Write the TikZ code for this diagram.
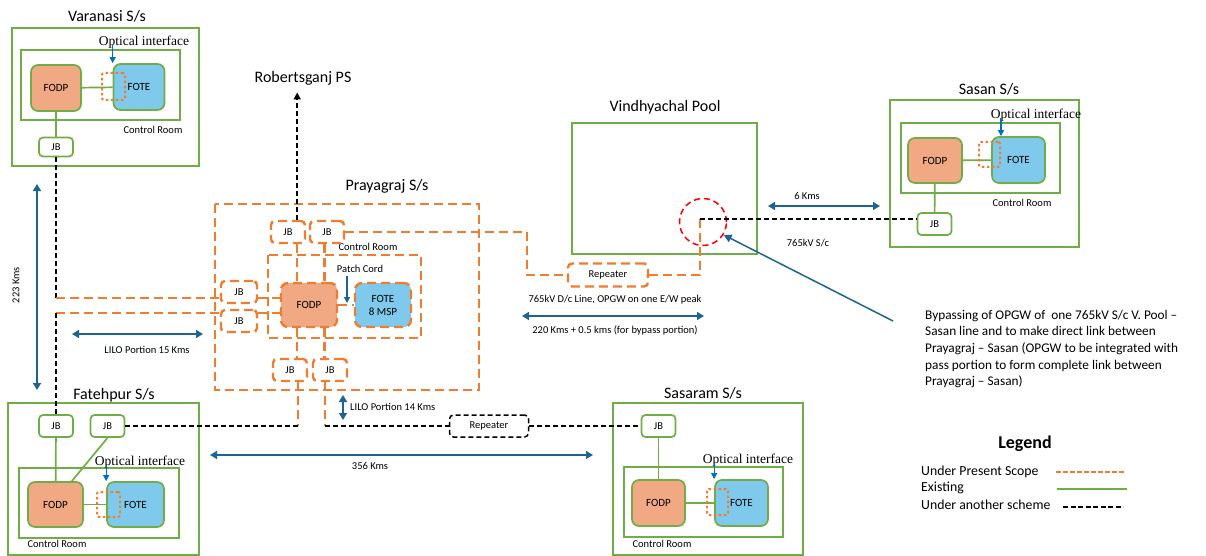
\documentclass[tikz,border=0pt]{standalone}
\usepackage{fontspec}
\setmainfont{Carlito}
\newfontfamily\timesfont{Liberation Serif}
\usetikzlibrary{arrows.meta}
\definecolor{exgreen}{RGB}{112,173,71}
\definecolor{scorange}{RGB}{237,125,49}
\definecolor{fodpfill}{RGB}{240,169,130}
\definecolor{fotefill}{RGB}{127,201,236}
\definecolor{kmblue}{RGB}{31,99,145}
\definecolor{oiblue}{RGB}{0,112,192}

\begin{document}
\begin{tikzpicture}[x=1pt,y=-1pt,
  existing/.style={draw=exgreen,line width=1.7pt},
  present/.style={draw=scorange,line width=2.4pt,dash pattern=on 9pt off 5pt},
  another/.style={draw=black,line width=1.5pt,dash pattern=on 5pt off 3pt},
  jbox/.style={rounded corners=4pt,fill=white,minimum width=34pt,minimum height=22pt,inner sep=0pt,font=\fontsize{10.5}{12}\selectfont},
  fodp/.style={rounded corners=7pt,fill=fodpfill,minimum width=53pt,minimum height=46pt,inner sep=0pt,font=\fontsize{11}{13}\selectfont},
  fote/.style={fodp,fill=fotefill},
  dotbr/.style={draw=scorange,line width=2pt,dash pattern=on 2.5pt off 2.5pt,rounded corners=2pt,inner sep=0pt},
  kms/.style={draw=kmblue,line width=1.5pt,{Triangle[width=8pt,length=7pt]}-{Triangle[width=8pt,length=7pt]}},
  oiarrow/.style={draw=oiblue,line width=1.2pt,-{Triangle[width=6pt,length=6pt]}},
  title/.style={font=\fontsize{16}{19}\selectfont},
  small/.style={font=\fontsize{10.5}{12}\selectfont},
  optint/.style={font=\timesfont\fontsize{13.5}{16}\selectfont},
  legtext/.style={anchor=west,inner sep=0pt,font=\fontsize{13.8}{15}\selectfont}
]
\useasboundingbox (0,0) rectangle (1206,556);

\coordinate (lnA) at (56,298);
\coordinate (lnB) at (56,313);
\coordinate (jnA) at (298,426);
\coordinate (jnB) at (325,426);
\coordinate (cnA) at (527,232);
\coordinate (vpJ) at (700,219);
\coordinate (pcA) at (347,303);

% Varanasi
\node[title] (varT) at (107,16) {Varanasi S/s};
\draw[existing] (12,28) rectangle (199,166);
\draw[existing] (21,50) rectangle (180,120);
\node[fodp,existing,minimum width=50pt] (varFODP) at (56,88) {FODP};
\node[fote,existing,minimum width=51pt] (varFOTE) at (139,87) {FOTE};
\draw[existing] (varFODP) -- (varFOTE);
\node[dotbr,minimum width=23pt,minimum height=27pt] (varPC) at (113.5,86.5) {};
\node[optint] (varOI) at (144,42) {Optical interface};
\draw[oiarrow] (varOI.base -| varFOTE.west) -- (varFOTE.north west);
\node[small] (varCR) at (153,130) {Control Room};
\node[jbox,existing,minimum height=19pt] (varJB) at (56,147) {JB};
\draw[existing] (varFODP) -- (varJB);
\draw[another] (varJB) -- (lnA);

% Prayagraj
\node[title] (pyT) at (387,186) {Prayagraj S/s};
\draw[present] (215,204) rectangle (479,390);
\draw[present] (268,255) rectangle (421,338);
\node[fodp,present,minimum width=56pt,minimum height=44pt] (pyFODP) at (309,305) {FODP};
\node[fote,present,minimum width=56pt,minimum height=44pt,align=center] (pyFOTE) at (383,305) {FOTE\\8 MSP};
\draw[present] (pyFODP) -- (pyFOTE);
\node[small] (pyPC) at (360,269) {Patch Cord};
\draw[draw=kmblue,line width=1.3pt,-{Triangle[width=6pt,length=6pt]}] (pyPC.south -| pcA) -- (pcA);
\node[small] (pyCR) at (368,247) {Control Room};
\node[jbox,present] (pyJB1) at (288,232) {JB};
\node[jbox,present] (pyJB2) at (327,232) {JB};
\node[jbox,present,minimum width=36pt] (pyJB3) at (239,292) {JB};
\node[jbox,present,minimum width=36pt] (pyJB4) at (239,321) {JB};
\node[jbox,present] (pyJB5) at (290,370) {JB};
\node[jbox,present] (pyJB6) at (330,370) {JB};
\draw[present] (pyJB1.south -| pyFODP.117) -- (pyFODP.117);
\draw[present] (pyJB2.south -| pyFODP.56) -- (pyFODP.56);
\draw[present] (pyFODP.243) -- (pyFODP.243 |- pyJB5.north);
\draw[present] (pyFODP.304) -- (pyFODP.304 |- pyJB6.north);
\draw[present] (pyJB3.east |- lnA) -- (pyFODP.west |- lnA);
\draw[present] (pyJB4.east |- lnB) -- (pyFODP.west |- lnB);
\draw[present] (lnA) -- (pyJB3.west |- lnA);
\draw[present] (lnB) -- (pyJB4.west |- lnB);
\draw[present] (pyJB5.south -| jnA) -- (jnA);
\draw[present] (pyJB6.south -| jnB) -- (jnB);

% Robertsganj
\node[title] (robT) at (303,78) {Robertsganj PS};
\draw[another,-{Triangle[width=7pt,length=7pt]},shorten >=4pt] (pyJB1.north -| pyFODP.117) -- (pyFODP.117 |- robT.south);

% Vindhyachal Pool
\node[title] (vpT) at (665,107) {Vindhyachal Pool};
\draw[existing] (572,123) rectangle (757,254);
\node[jbox,present,minimum width=80pt,minimum height=23pt] (rep1) at (608,275) {Repeater};
\draw[present] (pyJB2) -- (pyJB2 -| cnA) |- (rep1);
\draw[present] (rep1) -| (vpJ);
\node[circle,draw=red,line width=1.5pt,dash pattern=on 6pt off 4pt,minimum size=47pt] (byp) at (703,222) {};

% Sasan
\node[title] (sasT) at (989,89) {Sasan S/s};
\draw[existing] (890,100) rectangle (1079,247);
\draw[existing] (901,123) rectangle (1060,193);
\node[fodp,existing,minimum width=54pt,minimum height=45pt] (sasFODP) at (935,160.5) {FODP};
\node[fote,existing,minimum width=53pt] (sasFOTE) at (1018.5,160) {FOTE};
\draw[existing] (sasFODP) -- (sasFOTE);
\node[dotbr,minimum width=21pt,minimum height=25pt] (sasPC) at (989.5,154.5) {};
\node[optint] (sasOI) at (1036,115) {Optical interface};
\draw[oiarrow] (sasOI.base -| sasPC.east) -- (sasPC.east |- sasFOTE.north);
\node[small] (sasCR) at (1022,203) {Control Room};
\node[jbox,existing] (sasJB) at (934.5,224) {JB};
\draw[existing] (sasFODP) -- (sasJB);
\draw[another] (vpJ) -- (vpJ -| sasJB.west);

% Fatehpur
\node[title] (fatT) at (114,395) {Fatehpur S/s};
\draw[existing] (8,403) rectangle (199,555);
\draw[existing] (19,468) rectangle (179,538);
\node[jbox,existing] (fatJB1) at (56,426) {JB};
\node[jbox,existing] (fatJB2) at (107.5,426) {JB};
\node[fodp,existing,minimum width=55pt,minimum height=45pt] (fatFODP) at (55.5,504.5) {FODP};
\node[fote,existing,minimum width=57pt,minimum height=45pt] (fatFOTE) at (135.5,504.5) {FOTE};
\draw[existing] (fatJB1) -- (fatFODP);
\draw[existing] (fatJB2.south) -- (fatFODP.55);
\draw[existing] (fatFODP) -- (fatFOTE);
\node[dotbr,minimum width=23pt,minimum height=25pt] (fatPC) at (108.5,504.5) {};
\node[optint] (fatOI) at (140,462) {Optical interface};
\draw[oiarrow] (fatOI.base -| fatFOTE.west) -- (fatFOTE.north west);
\node[small] (fatCR) at (57,544) {Control Room};
\draw[another] (lnB) -- (fatJB1);
\draw[another] (fatJB2) -- (jnA);

% Sasaram
\node[title] (ssmT) at (703,393) {Sasaram S/s};
\draw[existing] (613,403) rectangle (803,555);
\draw[existing] (624,467) rectangle (783,537);
\node[jbox,existing] (ssmJB) at (658.5,426) {JB};
\node[fodp,existing] (ssmFODP) at (658.5,503) {FODP};
\node[fote,existing] (ssmFOTE) at (741.5,503) {FOTE};
\draw[existing] (ssmJB) -- (ssmFODP);
\draw[existing] (ssmFODP) -- (ssmFOTE);
\node[dotbr,minimum width=21pt,minimum height=26pt] (ssmPC) at (717.5,502) {};
\node[optint] (ssmOI) at (748,460) {Optical interface};
\draw[oiarrow] (ssmOI.base -| ssmFOTE.west) -- (ssmFOTE.north west);
\node[small] (ssmCR) at (662,544) {Control Room};
\node[jbox,another,minimum width=79pt] (rep2) at (489,426) {Repeater};
\draw[another] (jnB) -- (rep2) -- (ssmJB);

% distances
\coordinate (k223a) at (37,184);
\coordinate (k223b) at (37,390);
\draw[kms] (k223a) -- (k223b);
\node[small,rotate=90] (k223) at (16,285) {223 Kms};
\coordinate (k15a) at (72,334);
\coordinate (k15b) at (203,334);
\draw[kms] (k15a) -- (k15b);
\node[small] (k15) at (147,350) {LILO Portion 15 Kms};
\coordinate (k14a) at (343,395);
\coordinate (k14b) at (343,420);
\draw[kms] (k14a) -- (k14b);
\node[small,anchor=west,inner sep=0pt] (k14) at (350,407) {LILO Portion 14 Kms};
\coordinate (k356a) at (210,455);
\coordinate (k356b) at (593,455);
\draw[kms] (k356a) -- (k356b);
\node[small] (k356) at (370,466) {356 Kms};
\node[small] (dcl) at (615,300) {765kV D/c Line, OPGW on one E/W peak};
\coordinate (k220a) at (522,316);
\coordinate (k220b) at (704,316);
\draw[kms] (k220a) -- (k220b);
\node[small] (k220) at (615,331) {220 Kms + 0.5 kms (for bypass portion)};
\coordinate (k6a) at (768,206);
\coordinate (k6b) at (880,206);
\draw[kms] (k6a) -- (k6b);
\node[small] (k6) at (807,196) {6 Kms};
\node[small] (scl) at (808,243) {765kV S/c};

% note
\node[align=left,anchor=west,inner sep=0pt,font=\fontsize{13.3}{16.7}\selectfont] (note) at (925,349) {Bypassing of OPGW of~ one 765kV S/c V. Pool --\\Sasan line and to make direct link between\\Prayagraj -- Sasan (OPGW to be integrated with\\pass portion to form complete link between\\Prayagraj -- Sasan)};
\coordinate (noteTail) at (893,321);
\draw[draw=kmblue,line width=1.5pt,-{Triangle[width=8pt,length=8pt]}] (noteTail) -- (byp.-32);

% legend
\node[font=\bfseries\fontsize{18}{20}\selectfont] (legT) at (1025,444) {Legend};
\node[legtext] (leg1) at (921,472) {Under Present Scope};
\node[legtext] (leg2) at (921,488) {Existing};
\node[legtext] (leg3) at (921,505) {Under another scheme};
\coordinate (l1a) at (1056,472);
\coordinate (l1b) at (1125,472);
\coordinate (l2a) at (1057,489);
\coordinate (l2b) at (1127,489);
\coordinate (l3a) at (1063,507);
\coordinate (l3b) at (1123,507);
\draw[draw=scorange,line width=1.8pt,dash pattern=on 4.5pt off 2.5pt] (l1a) -- (l1b);
\draw[existing,line width=1.5pt] (l2a) -- (l2b);
\draw[draw=black,line width=1.8pt,dash pattern=on 5pt off 2.5pt] (l3a) -- (l3b);

\end{tikzpicture}
\end{document}
